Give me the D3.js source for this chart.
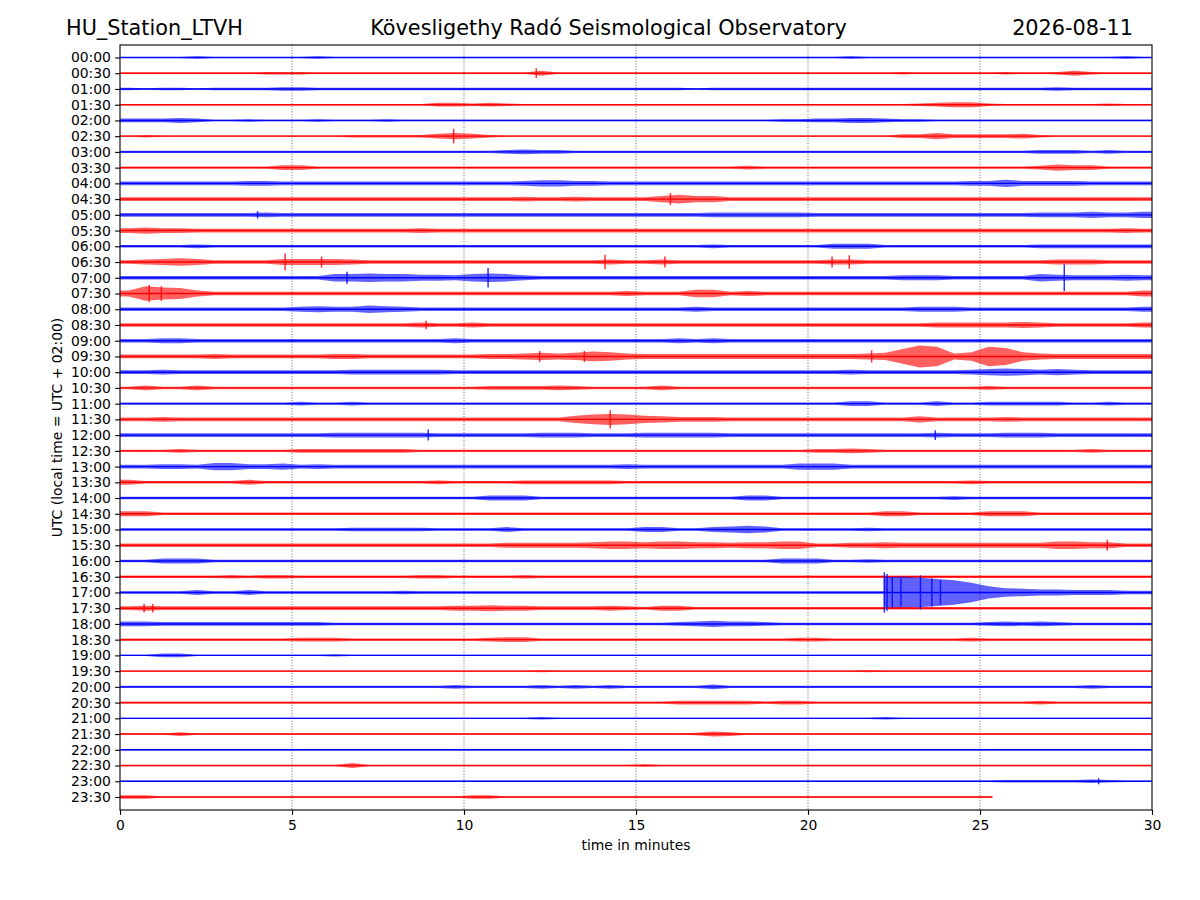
<!DOCTYPE html>
<html><head><meta charset="utf-8">
<script src="https://cdn.jsdelivr.net/npm/d3@7"></script>
<style>body{margin:0;background:#fff} text{font-family:"DejaVu Sans",sans-serif}</style>
</head><body><svg id="c" width="1200" height="900" xmlns="http://www.w3.org/2000/svg"></svg>
<script>
const stationLabel = "HU_Station_LTVH";
const titleLabel = "Kövesligethy Radó Seismological Observatory";
const dateLabel = "2026-08-11";
const yAxisLabel = "UTC (local time = UTC + 02:00)";
const xAxisLabel = "time in minutes";
const xTicks = [0, 5, 10, 15, 20, 25, 30];
const gridMinutes = [5, 10, 15, 20, 25];
const timeLabels = ["00:00","00:30","01:00","01:30","02:00","02:30","03:00","03:30","04:00","04:30","05:00","05:30",
  "06:00","06:30","07:00","07:30","08:00","08:30","09:00","09:30","10:00","10:30","11:00","11:30",
  "12:00","12:30","13:00","13:30","14:00","14:30","15:00","15:30","16:00","16:30","17:00","17:30",
  "18:00","18:30","19:00","19:30","20:00","20:30","21:00","21:30","22:00","22:30","23:00","23:30"];
const traceColors = ["#0000ff", "#ff0000"];
const binMinutes = 0.5;        // each envelope character = half a minute
const lastTraceEnd = 25.36;    // minutes of data in the last line
// envelope half-amplitude per 0.5-minute bin (base-36 digits), six groups of 5 minutes
const envelopes = [
"1111211111 1211111111 1111111111 1111111111 1121111111 1111111121",
"1111111122 2111111111 1111411111 1111111111 1111121111 1211242111",
"2122122223 3222222222 2222222222 2221222222 2222222222 2222322222",
"1111111111 1111111133 2321111111 1111111111 1111112344 2111111211",
"3334311211 1211121111 1111111111 1111111122 3344322111 1111111111",
"1211111111 1112222245 4211111111 1111111111 1111133533 3342111111",
"2222222222 2222222222 2234332222 2222222222 2222222222 2223332322",
"2222222224 4222222222 2222222222 2222223222 2222222222 2223544222",
"3333333443 3333333333 3334554433 3333333333 3333333334 4644443333",
"3333333333 3333333333 3334334333 3575533333 3333333333 3333333333",
"3333333343 3333333333 3333333333 3333444444 3333333333 3334445445",
"4544333333 3333333433 3333333333 3333333333 3333333333 3333333343",
"2222322222 2222222222 2222222222 2222322222 2444222222 2223333333",
"3456533335 5554333333 3333333343 3433333333 3443333333 3333444333",
"3333333333 3366766554 6764333333 3333333333 3333344433 3336544454",
"5ca9533333 3333333333 3333333334 3336634333 3333333333 3333333335",
"3333333333 4544654333 3333333333 3334333333 3333334443 3333333334",
"3333333333 3333333433 4333333333 3333333333 3333333444 4454333334",
"3344333333 3333333334 3333333333 3343433333 3333333333 3333333333",
"3333343333 3344333333 3445656875 4444444444 44456cig57 ge75444444",
"3343333333 3334444443 3333333333 3333333333 3343333334 5654543333",
"2422422222 2222222222 2333343222 2422222222 2222222222 3222222222",
"2222222222 3223222222 2222222222 2222222222 2244222422 3333322322",
"3343333333 3333333333 3333336898 6544433333 3333335333 3433333333",
"3333333333 3344444433 3333444333 4444433333 3333333433 3444333333",
"2223222222 3333333222 2222222222 2222222222 3343222222 2222223222",
"3344366445 3433333333 3333333334 3333333335 5533333333 3333333333",
"4222222422 2222222232 2223333332 2222222222 2222222223 2222222222",
"2222222222 2222222222 2444222222 2222224422 2222222232 2222222222",
"4422222222 2222222222 2222222222 2222222222 2222442222 4442222222",
"2222222222 2223333322 2242222222 4422456522 2223222222 2222222222",
"3333333333 3333333333 3344444566 5665545566 3344544444 4444665533",
"2244422222 2222222222 2222222222 2222222244 4223222222 2222222222",
"2222223233 2222222332 2223222222 2222222222 2222222222 2222222222",
"2222422422 2222223222 2222222222 2222222222 2222pqomkg a765544433",
"3433333333 3333333334 4544333343 2442222222 2222222222 2222222222",
"4433333333 3322222222 2222222222 2234544322 2222222222 3434322222",
"2222222222 3332222222 2344222222 2222222223 3222222223 2222222222",
"1133111111 1121111111 1111111111 1111111111 1111111111 1111111111",
"1111111111 1111111111 1111211111 1111111111 1112111111 1111111111",
"2222222222 2222222223 2222323232 2222422222 2222222222 2222223222",
"2222222222 2222222222 2222222222 2233333233 2222222222 2223222222",
"1111111111 1111111111 1111211111 1111111111 1111211111 1111111111",
"1113111111 1111111111 1111111111 1112431111 1111111111 1111111111",
"1111111111 1111111111 1111111111 1111111111 1111111111 1111111111",
"1111111111 1114111111 1111111111 2111111111 1111111111 1111111111",
"1111111111 1111111111 1111111111 1111111111 1111111111 1222223211",
"3311111111 1111111111 3311111111 1111111111 1111111111 1111111111"
];
// abrupt event onsets: [line index, minute]
const onsets = [[34, 22.2]];
// narrow spikes: [line index, minute, half-amplitude]
const spikes = [
  [1, 12.1, 8], [5, 9.7, 12], [9, 16.0, 10], [10, 4.0, 6],
  [13, 4.8, 14], [13, 5.86, 9], [13, 14.1, 12], [13, 15.84, 9], [13, 20.7, 9], [13, 21.2, 11],
  [14, 6.6, 10], [14, 10.7, 16], [14, 27.45, 22],
  [15, 0.85, 14], [15, 1.2, 12],
  [17, 8.9, 7],
  [19, 12.2, 9], [19, 13.5, 9], [19, 21.85, 10],
  [23, 14.25, 15],
  [24, 8.96, 9], [24, 23.7, 8],
  [31, 28.7, 9],
  [34, 22.22, 33], [34, 22.3, 30], [34, 22.45, 25], [34, 22.7, 23], [34, 23.27, 28], [34, 23.6, 23], [34, 23.85, 20],
  [35, 0.7, 7], [35, 0.95, 7],
  [46, 28.45, 5]
];

const svg = d3.select("#c");
const x = d3.scaleLinear().domain([0, 30]).range([120, 1152]);
const y = d3.scaleLinear().domain([-0.794, 47.826]).range([45, 810]);
const amp = d3.scaleLinear().domain([0, 36]).range([0, 22]);

svg.append("rect").attr("width", 1200).attr("height", 900).attr("fill", "#fff");

// grid
svg.append("g").selectAll("line").data(gridMinutes).join("line")
  .attr("x1", d => x(d)).attr("x2", d => x(d))
  .attr("y1", y.range()[0]).attr("y2", y.range()[1])
  .attr("stroke", "#000").attr("stroke-width", 0.6).attr("stroke-dasharray", "1,1.65");

const traces = svg.append("g");
envelopes.forEach((s, i) => {
  const vals = s.replace(/\s+/g, "").split("").map(c => parseInt(c, 36));
  const color = traceColors[i % 2];
  const end = i === envelopes.length - 1 ? lastTraceEnd : 30;
  let pts = [{m: 0, a: vals[0]}];
  vals.forEach((a, b) => pts.push({m: (b + 0.5) * binMinutes, a}));
  pts.push({m: 30, a: vals[vals.length - 1]});
  onsets.filter(o => o[0] === i).forEach(o => {
    const b = Math.floor(o[1] / binMinutes);
    const before = vals[b - 1], after = vals[b];
    pts = pts.filter(p => !(p.m > (b - 0.5) * binMinutes && p.m < o[1]));
    pts.push({m: o[1], a: before}, {m: o[1] + 0.001, a: after});
    pts.sort((p, q) => p.m - q.m);
  });
  if (end < 30) {
    pts = pts.filter(p => p.m <= end);
    pts.push({m: end, a: vals[Math.floor(end / binMinutes)]});
  }
  const area = d3.area().x(d => x(d.m))
    .y0(d => y(i) - amp(d.a)).y1(d => y(i) + amp(d.a));
  traces.append("path").attr("d", area(pts)).attr("fill", color).attr("fill-opacity", 0.62);
  const line = d3.line().x(d => x(d.m)).y(() => y(i));
  traces.append("path").attr("d", line(pts)).attr("fill", "none").attr("stroke", color).attr("stroke-width", 1.4);
});

traces.selectAll("line.spike").data(spikes).join("line").attr("class", "spike")
  .attr("x1", d => x(d[1])).attr("x2", d => x(d[1]))
  .attr("y1", d => y(d[0]) - amp(d[2])).attr("y2", d => y(d[0]) + amp(d[2]))
  .attr("stroke", d => traceColors[d[0] % 2]).attr("stroke-width", 1.5).attr("stroke-opacity", 0.8);

// axes
const xAxis = svg.append("g").attr("transform", `translate(0,${y.range()[1]})`)
  .call(d3.axisBottom(x).tickValues(xTicks).tickFormat(d3.format("d")).tickSize(4.9).tickPadding(4.9));
const yAxis = svg.append("g").attr("transform", `translate(${x.range()[0]},0)`)
  .call(d3.axisLeft(y).tickValues(d3.range(timeLabels.length)).tickFormat(i => timeLabels[i]).tickSize(4.9).tickPadding(4.2));
[xAxis, yAxis].forEach(g => {
  g.select(".domain").remove();
  g.selectAll(".tick line").attr("stroke", "#000").attr("stroke-width", 1.1);
  g.selectAll(".tick text").attr("fill", "#000").style("font-size", "13.9px").style("font-family", "DejaVu Sans");
});

// frame
svg.append("rect").attr("x", x.range()[0]).attr("y", y.range()[0])
  .attr("width", x.range()[1] - x.range()[0]).attr("height", y.range()[1] - y.range()[0])
  .attr("fill", "none").attr("stroke", "#000").attr("stroke-width", 1.1);

// labels
svg.append("text").attr("x", 636).attr("y", 850).attr("text-anchor", "middle")
  .style("font-size", "13.9px").text(xAxisLabel);
svg.append("text").attr("transform", "translate(62,427.5) rotate(-90)").attr("text-anchor", "middle")
  .style("font-size", "13.9px").text(yAxisLabel);
svg.append("text").attr("x", 66).attr("y", 35).style("font-size", "20.8px").text(stationLabel);
svg.append("text").attr("x", 608.5).attr("y", 35).attr("text-anchor", "middle").style("font-size", "20.8px").text(titleLabel);
svg.append("text").attr("x", 1133).attr("y", 35).attr("text-anchor", "end").style("font-size", "20.8px").text(dateLabel);
</script></body></html>
